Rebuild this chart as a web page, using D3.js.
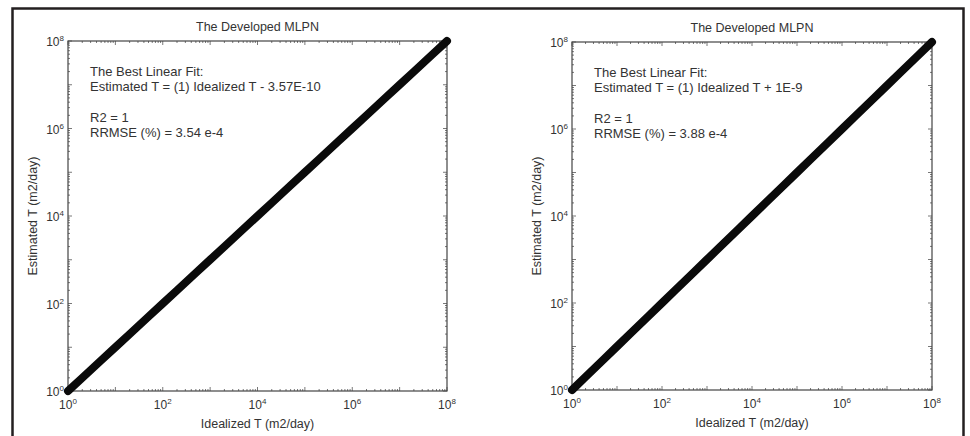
<!DOCTYPE html>
<html>
<head>
<meta charset="utf-8">
<script src="https://cdn.jsdelivr.net/npm/d3@7"></script>
<style>
  body { margin: 0; background: #fff; }
  svg { display: block; font-family: "Liberation Sans", Arial, sans-serif; }
  .tick-label, .ann, .title, .axis-title { fill: #333; }
</style>
</head>
<body>
<div id="chart"></div>
<script>
const width = 970;
const height = 436;

// log-axis decades shown as labels
const tickExponents = [0, 2, 4, 6, 8];

// points along the fit (idealized vs estimated), both panels
const idealizedT = [1, 2, 5, 10, 20, 50, 100, 200, 500, 1e3, 2e3, 5e3, 1e4, 2e4, 5e4,
    1e5, 2e5, 5e5, 1e6, 2e6, 5e6, 1e7, 2e7, 5e7, 1e8];
const estimatedLeft = [1, 2, 5, 10, 20, 50, 100, 200, 500, 1e3, 2e3, 5e3, 1e4, 2e4, 5e4,
    1e5, 2e5, 5e5, 1e6, 2e6, 5e6, 1e7, 2e7, 5e7, 1e8];
const estimatedRight = [1, 2, 5, 10, 20, 50, 100, 200, 500, 1e3, 2e3, 5e3, 1e4, 2e4, 5e4,
    1e5, 2e5, 5e5, 1e6, 2e6, 5e6, 1e7, 2e7, 5e7, 1e8];

const panelTitles = ["The Developed MLPN", "The Developed MLPN"];
const fitLines = ["Estimated T = (1) Idealized T - 3.57E-10", "Estimated T = (1) Idealized T + 1E-9"];
const rrmseLines = ["RRMSE (%) = 3.54 e-4", "RRMSE (%) = 3.88 e-4"];

const svg = d3.select("#chart").append("svg")
    .attr("width", width)
    .attr("height", height);

// outer frame around the figure
svg.append("rect")
    .attr("x", 12.5).attr("y", 8.5)
    .attr("width", 951).attr("height", 440)
    .attr("fill", "none")
    .attr("stroke", "#231f20")
    .attr("stroke-width", 2.5);

const panels = [
    { left: 68, right: 447, top: 41, bottom: 391, est: estimatedLeft },
    { left: 572, right: 932, top: 42, bottom: 390, est: estimatedRight },
];

function drawPanel(p, i) {
    const g = svg.append("g");

    const xScale = d3.scaleLog().domain([1, 1e8]).range([p.left, p.right]);
    const yScale = d3.scaleLog().domain([1, 1e8]).range([p.bottom, p.top]);

    // minor tick values (2..9 x 10^k)
    const minor = [];
    for (let e = 0; e < 8; e++) {
        for (let m = 2; m <= 9; m++) minor.push(m * Math.pow(10, e));
    }
    const major = d3.range(0, 9).map(e => Math.pow(10, e));

    const tickG = g.append("g").attr("stroke", "#555").attr("stroke-width", 0.8);
    // ticks inside box on all four sides
    minor.forEach(v => {
        tickG.append("line").attr("x1", xScale(v)).attr("x2", xScale(v)).attr("y1", p.bottom).attr("y2", p.bottom - 2);
        tickG.append("line").attr("x1", xScale(v)).attr("x2", xScale(v)).attr("y1", p.top).attr("y2", p.top + 2);
        tickG.append("line").attr("y1", yScale(v)).attr("y2", yScale(v)).attr("x1", p.left).attr("x2", p.left + 2);
        tickG.append("line").attr("y1", yScale(v)).attr("y2", yScale(v)).attr("x1", p.right).attr("x2", p.right - 2);
    });
    major.forEach(v => {
        tickG.append("line").attr("x1", xScale(v)).attr("x2", xScale(v)).attr("y1", p.bottom).attr("y2", p.bottom - 4);
        tickG.append("line").attr("x1", xScale(v)).attr("x2", xScale(v)).attr("y1", p.top).attr("y2", p.top + 4);
        tickG.append("line").attr("y1", yScale(v)).attr("y2", yScale(v)).attr("x1", p.left).attr("x2", p.left + 4);
        tickG.append("line").attr("y1", yScale(v)).attr("y2", yScale(v)).attr("x1", p.right).attr("x2", p.right - 4);
    });

    g.append("rect")
        .attr("x", p.left).attr("y", p.top)
        .attr("width", p.right - p.left).attr("height", p.bottom - p.top)
        .attr("fill", "none")
        .attr("stroke", "#444")
        .attr("stroke-width", 1.2);

    // tick labels 10^n
    tickExponents.forEach(e => {
        const v = Math.pow(10, e);
        const tx = g.append("text").attr("class", "tick-label")
            .attr("x", xScale(v)).attr("y", p.bottom + 18)
            .attr("text-anchor", "middle")
            .style("font-size", "12px");
        tx.append("tspan").text("10");
        tx.append("tspan").attr("dy", -5).style("font-size", "8px").text(e);

        const ty = g.append("text").attr("class", "tick-label")
            .attr("x", p.left - 4).attr("y", yScale(v) + 5)
            .attr("text-anchor", "end")
            .style("font-size", "12px");
        ty.append("tspan").text("10");
        ty.append("tspan").attr("dy", -5).style("font-size", "8px").text(e);
    });

    const cx = (p.left + p.right) / 2;
    g.append("text").attr("class", "title")
        .attr("x", cx).attr("y", p.top - 10)
        .attr("text-anchor", "middle")
        .style("font-size", "12.5px")
        .text(panelTitles[i]);

    g.append("text").attr("class", "axis-title")
        .attr("x", cx).attr("y", p.bottom + 37)
        .attr("text-anchor", "middle")
        .style("font-size", "12.5px")
        .text("Idealized T (m2/day)");

    g.append("text").attr("class", "axis-title")
        .attr("transform", `translate(${p.left - 31}, ${(p.top + p.bottom) / 2}) rotate(-90)`)
        .attr("text-anchor", "middle")
        .style("font-size", "12.5px")
        .text("Estimated T (m2/day)");

    const ax = p.left + 22;
    const annLines = [
        ["The Best Linear Fit:", p.top + 35],
        [fitLines[i], p.top + 50],
        ["R2 = 1", p.top + 81],
        [rrmseLines[i], p.top + 96],
    ];
    annLines.forEach(([t, y]) => {
        g.append("text").attr("class", "ann")
            .attr("x", ax).attr("y", y)
            .style("font-size", "13px")
            .text(t);
    });

    const pts = idealizedT.map((d, k) => ({ x: d, y: p.est[k] }));
    const line = d3.line().x(d => xScale(d.x)).y(d => yScale(d.y));
    g.append("path")
        .datum(pts)
        .attr("d", line)
        .attr("fill", "none")
        .attr("stroke", "#0a0a0a")
        .attr("stroke-width", 8)
        .attr("stroke-linecap", "round");
}

panels.forEach(drawPanel);
</script>
</body>
</html>
